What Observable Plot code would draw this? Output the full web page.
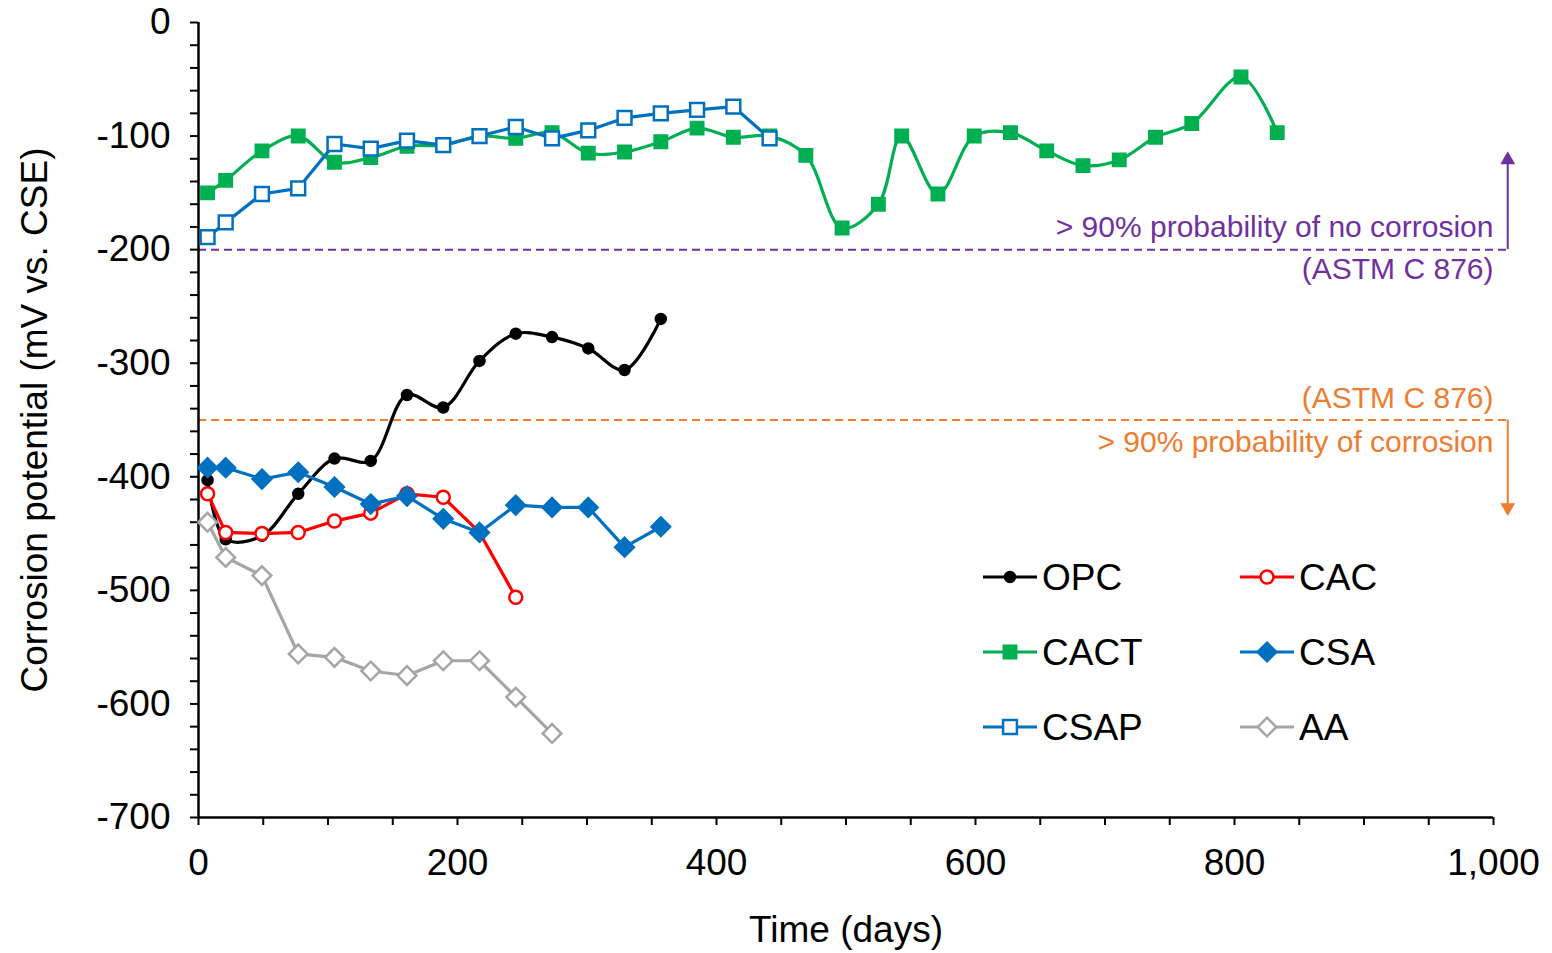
<!DOCTYPE html>
<html>
<head>
<meta charset="utf-8">
<script src="https://cdn.jsdelivr.net/npm/d3@7"></script>
<script src="https://cdn.jsdelivr.net/npm/@observablehq/plot@0.6"></script>
<style>
  html, body { margin: 0; padding: 0; background: #fff; }
  #chart { width: 1552px; height: 953px; }
</style>
</head>
<body>
<div id="chart"></div>
<script>
// ---- data ----
const days = [7, 21, 49, 77, 105, 133, 161, 189, 217, 245, 273, 301, 329, 357, 385, 413, 441,
              469, 497, 525, 543, 571, 599, 627, 655, 683, 711, 739, 767, 805, 833];
const OPC  = [-403, -455, -452, -415, -384, -386, -328, -339, -298, -274, -277, -287, -306, -261];
const CAC  = [-415, -449, -450, -449, -439, -432, -415, -418, -449, -506];
const CACT = [-150, -139, -113, -100, -123, -119, -109, -108, -100, -102, -97, -115, -114, -105, -93, -101, -100,
              -117, -181, -160, -100, -151, -100, -97, -113, -126, -121, -101, -89, -48, -97];
const CSA  = [-392, -392, -402, -396, -409, -424, -417, -437, -449, -425, -427, -427, -462, -444];
const CSAP = [-189, -176, -151, -146, -107, -111, -104, -108, -100, -92, -102, -95, -84, -80, -77, -74, -102];
const AA   = [-440, -471, -487, -556, -559, -571, -575, -562, -562, -594, -626];

const seriesNames  = ["OPC", "CAC", "CACT", "CSA", "CSAP", "AA"];
const seriesValues = [OPC, CAC, CACT, CSA, CSAP, AA];
const seriesColors = ["#000000", "#FF0000", "#00B050", "#0070C0", "#0070C0", "#A5A5A5"];
const seriesFills  = ["#000000", "#FFFFFF", "#00B050", "#0070C0", "#FFFFFF", "#FFFFFF"];
const seriesSymbols = ["circle", "circle", "square", "diamond2", "square", "diamond2"];
const seriesR      = [5, 6.5, 7, 8.4, 7.8, 8.4];
const seriesCurve  = ["catmull-rom", "linear", "catmull-rom", "linear", "linear", "linear"];

const xTicks = d3.range(0, 1001, 50);
const yTicks = d3.range(-700, 1, 20);

// thresholds (ASTM C 876)
const thresholds = [-200, -350];
const thresholdColors = ["#7030A0", "#ED7D31"];
const arrowEnd = [-125, -428];
const arrowTip = [-121, -427];
const arrowRotate = [0, 180];
const arrowX = 1011;
const noteTexts = ["> 90% probability of no corrosion", "(ASTM C 876)", "(ASTM C 876)", "> 90% probability of corrosion"];
const noteY = [-180, -217, -331, -370];
const noteColors = ["#7030A0", "#7030A0", "#ED7D31", "#ED7D31"];

// ---- build tables ----
const rows = [];
seriesNames.forEach((name, i) => {
  seriesValues[i].forEach((v, j) => rows.push({series: name, day: days[j], mV: v}));
});

const marks = [];
// threshold lines + arrows
thresholds.forEach((t, i) => {
  marks.push(Plot.ruleY([t], {x1: 0, x2: arrowX, stroke: thresholdColors[i], strokeWidth: 2, strokeDasharray: "8,5"}));
  marks.push(Plot.ruleX([arrowX], {y1: t, y2: arrowEnd[i], stroke: thresholdColors[i], strokeWidth: 2}));
  marks.push(Plot.dot([{x: arrowX, y: arrowTip[i]}], {x: "x", y: "y", symbol: "triangle", r: 5.5, fill: thresholdColors[i], stroke: "none", rotate: arrowRotate[i]}));
});
noteTexts.forEach((t, i) => {
  marks.push(Plot.text([t], {x: 1000, y: noteY[i], textAnchor: "end", fill: noteColors[i], fontSize: 30, lineAnchor: "middle"}));
});

// axes
marks.push(Plot.axisY({ticks: yTicks, tickSize: 8, tickPadding: 20, strokeWidth: 2,
  tickFormat: d => (d % 100 === 0 ? String(d) : ""), label: null, fontSize: 37}));
marks.push(Plot.axisX({ticks: xTicks, tickSize: 8, tickPadding: 23, strokeWidth: 2,
  tickFormat: d => (d % 200 === 0 ? d.toLocaleString("en-US") : ""), label: null, fontSize: 37}));
marks.push(Plot.ruleX([0], {stroke: "#000", strokeWidth: 2.5}));
marks.push(Plot.ruleY([-700], {stroke: "#000", strokeWidth: 2.5}));

// series
seriesNames.forEach((name, i) => {
  const data = rows.filter(d => d.series === name);
  marks.push(Plot.line(data, {x: "day", y: "mV", stroke: seriesColors[i], strokeWidth: 3.2, curve: seriesCurve[i]}));
  marks.push(Plot.dot(data, {x: "day", y: "mV", symbol: seriesSymbols[i], r: seriesR[i],
    fill: seriesFills[i], stroke: seriesColors[i], strokeWidth: 2.5}));
});

// axis titles
marks.push(Plot.text(["Time (days)"], {frameAnchor: "bottom", dy: 113, fontSize: 37, lineAnchor: "middle", textAnchor: "middle"}));
marks.push(Plot.text(["Corrosion potential (mV vs. CSE)"], {frameAnchor: "left", dx: -163, rotate: -90, fontSize: 37, lineAnchor: "middle", textAnchor: "middle"}));

const chart = Plot.plot({
  width: 1552,
  height: 953,
  marginLeft: 198,
  marginRight: 59,
  marginTop: 22,
  marginBottom: 136,
  x: {domain: [0, 1000]},
  y: {domain: [-700, 0]},
  style: {fontFamily: "'Liberation Sans', Arial, sans-serif", fontSize: "36px", color: "#000", background: "#fff", overflow: "visible"},
  marks
});

// ---- legend (inside the plot area, as in the reference) ----
const svg = d3.select(chart);
const legendRowsY = [577, 652, 727];
const legendColX = [983, 1240];
const symMap = {circle: d3.symbolCircle, square: d3.symbolSquare, diamond2: d3.symbolDiamond2};
const lg = svg.append("g").attr("font-family", "'Liberation Sans', Arial, sans-serif").attr("font-size", 37).attr("text-anchor", "start");
seriesNames.forEach((name, i) => {
  const cx = legendColX[i % 2];
  const cy = legendRowsY[Math.floor(i / 2)];
  lg.append("line").attr("x1", cx).attr("x2", cx + 54).attr("y1", cy).attr("y2", cy)
    .attr("stroke", seriesColors[i]).attr("stroke-width", 3.2);
  lg.append("path").attr("transform", `translate(${cx + 27},${cy})`)
    .attr("d", d3.symbol(symMap[seriesSymbols[i]], Math.PI * seriesR[i] * seriesR[i])())
    .attr("fill", seriesFills[i]).attr("stroke", seriesColors[i]).attr("stroke-width", 2.5);
  lg.append("text").attr("x", cx + 59).attr("y", cy).attr("dy", "0.35em").attr("text-anchor", "start").attr("fill", "#000").text(name);
});

document.getElementById("chart").appendChild(chart);
</script>
</body>
</html>
